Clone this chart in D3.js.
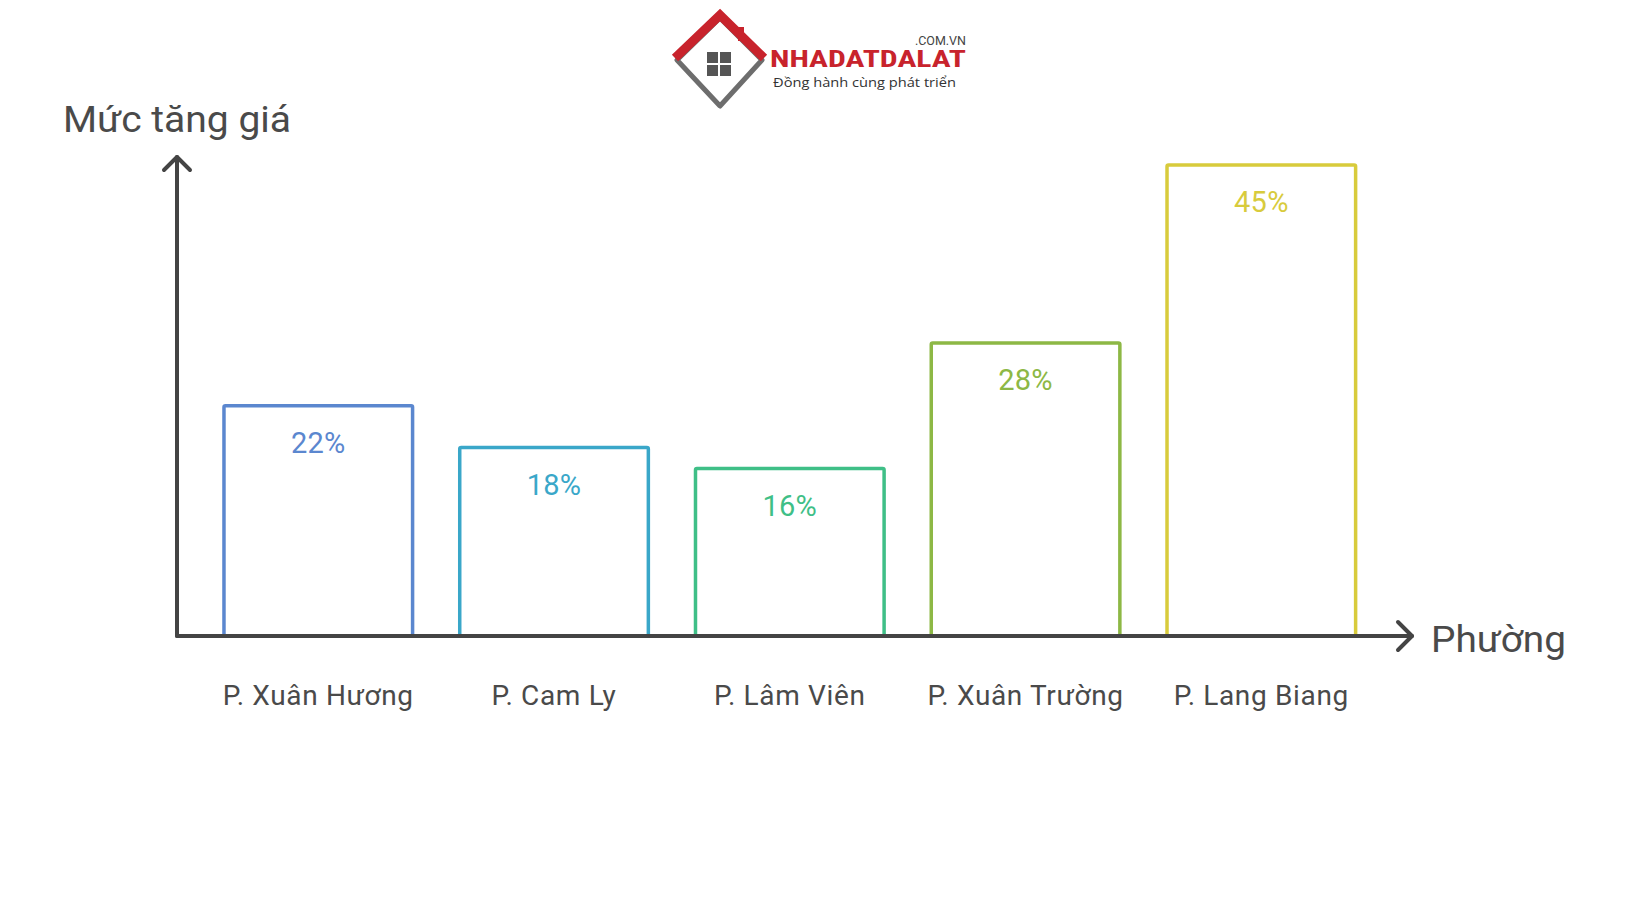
<!DOCTYPE html>
<html><head><meta charset="utf-8">
<script src="https://cdn.jsdelivr.net/npm/d3@7"></script>
<style>html,body{margin:0;padding:0;background:#fff;}svg{display:block;}</style>
</head><body>
<svg id="c" width="1640" height="924"></svg>
<script>
const categories = ["P. Xuân Hương", "P. Cam Ly", "P. Lâm Viên", "P. Xuân Trường", "P. Lang Biang"];
const values = [22, 18, 16, 28, 45];
const valueLabels = ["22%", "18%", "16%", "28%", "45%"];
const barColors = ["#5b87cf", "#3aa7c9", "#3fbf87", "#8db845", "#d8cb3c"];
const yTitle = "Mức tăng giá";
const xTitle = "Phường";

const svg = d3.select("#c");
const font = "Roboto, 'Noto Sans', sans-serif";
const axisColor = "#444";

const x = d3.scaleBand().domain(categories).range([200.4, 1379.2]).paddingInner(0.2).paddingOuter(0.1);
const y = d3.scaleLinear().domain([0, 45]).range([636, 165]);

// bars
const g = svg.append("g");
g.selectAll("rect.bar").data(values).join("rect")
  .attr("class", "bar")
  .attr("x", (d, i) => x(categories[i]))
  .attr("y", d => y(d))
  .attr("width", x.bandwidth())
  .attr("height", d => y(0) - y(d))
  .attr("fill", "#fff")
  .attr("stroke", (d, i) => barColors[i])
  .attr("stroke-width", 3.5)
  .attr("rx", 1.5);

g.selectAll("text.val").data(values).join("text")
  .attr("class", "val")
  .attr("x", (d, i) => x(categories[i]) + x.bandwidth() / 2)
  .attr("y", d => y(d) + 47)
  .attr("text-anchor", "middle")
  .attr("font-family", font)
  .attr("font-size", 29)
  .attr("letter-spacing", 0.3)
  .attr("fill", (d, i) => barColors[i])
  .text((d, i) => valueLabels[i]);

// category labels
g.selectAll("text.cat").data(categories).join("text")
  .attr("class", "cat")
  .attr("x", d => x(d) + x.bandwidth() / 2)
  .attr("y", 705)
  .attr("text-anchor", "middle")
  .attr("font-family", font)
  .attr("font-size", 28)
  .attr("letter-spacing", 0.65)
  .attr("fill", "#4a4a4a")
  .text(d => d);

// axes
const x0 = 177, yAxis = y(0);
const ax = svg.append("g").attr("stroke", axisColor).attr("stroke-width", 4).attr("fill", "none")
  .attr("stroke-linecap", "round").attr("stroke-linejoin", "round");
ax.append("line").attr("x1", x0).attr("y1", yAxis).attr("x2", x0).attr("y2", 157);
ax.append("path").attr("d", `M${x0-13},${170} L${x0},${157} L${x0+13},${170}`);
ax.append("line").attr("x1", x0).attr("y1", yAxis).attr("x2", 1412).attr("y2", yAxis);
ax.append("path").attr("d", `M1398,${yAxis-14} L1412,${yAxis} L1398,${yAxis+14}`);

svg.append("text").attr("x", 63).attr("y", 132).attr("font-family", font).attr("font-size", 36)
  .attr("fill", "#4a4a4a").attr("textLength", 228).attr("lengthAdjust", "spacingAndGlyphs").text(yTitle);
svg.append("text").attr("x", 1431).attr("y", 652).attr("font-family", font).attr("font-size", 37)
  .attr("fill", "#4a4a4a").attr("textLength", 135).attr("lengthAdjust", "spacingAndGlyphs").text(xTitle);

// logo
const lg = svg.append("g");
lg.append("path").attr("d", "M720,18 L762,60 L720,106 L677,60 Z").attr("fill", "#fff")
  .attr("stroke", "#6d6d6d").attr("stroke-width", 5).attr("stroke-linejoin", "round");
lg.append("path").attr("d", "M675,58 L720,15 L764,58").attr("fill", "none")
  .attr("stroke", "#c8232c").attr("stroke-width", 9).attr("stroke-linejoin", "miter");
lg.append("rect").attr("x", 738).attr("y", 27).attr("width", 6).attr("height", 14).attr("fill", "#c8232c");
[[707,52],[720,52],[707,65],[720,65]].forEach(p => {
  lg.append("rect").attr("x", p[0]).attr("y", p[1]).attr("width", 11).attr("height", 11).attr("fill", "#555");
});
lg.append("text").attr("x", 770).attr("y", 67).attr("font-family", "'Liberation Sans Narrow', 'Roboto Condensed', 'DejaVu Sans Condensed', sans-serif")
  .attr("font-weight", "bold").attr("font-size", 23).attr("fill", "#c8232c")
  .attr("textLength", 196).attr("lengthAdjust", "spacingAndGlyphs").text("NHADATDALAT");
lg.append("text").attr("x", 966).attr("y", 45).attr("text-anchor", "end").attr("font-family", font)
  .attr("font-size", 12.5).attr("fill", "#444").text(".COM.VN");
lg.append("text").attr("x", 773).attr("y", 87).attr("font-family", "'Open Sans', sans-serif")
  .attr("font-size", 13.5).attr("fill", "#333").attr("textLength", 183).attr("lengthAdjust", "spacingAndGlyphs")
  .text("Đồng hành cùng phát triển");
</script>
</body></html>
